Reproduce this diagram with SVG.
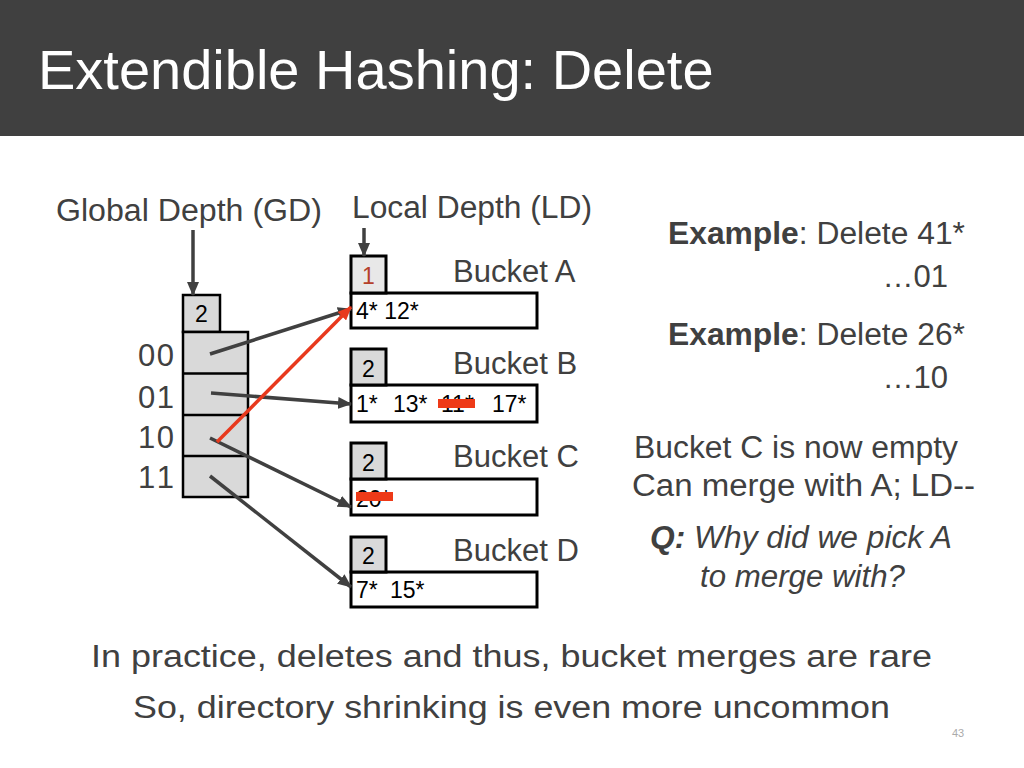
<svg xmlns="http://www.w3.org/2000/svg" width="1024" height="768" viewBox="0 0 1024 768">
<style>
text{font-family:"Liberation Sans",Arial,sans-serif}
.lbl{fill:#404040;font-size:31px}
.cnt{fill:#000;font-size:23px}
.box{fill:#fff;stroke:#000;stroke-width:3}
.ld{fill:#d9d9d9;stroke:#000;stroke-width:3}
.dir{fill:#d9d9d9;stroke:#000;stroke-width:2.5}
.arr{stroke:#404040;stroke-width:3.5;fill:none;marker-end:url(#ah)}
.red{stroke:#e8391d;stroke-width:3.5;fill:none;marker-end:url(#ahr)}
.strike{fill:#ee3a18}
</style>
<defs>
<marker id="ah" markerUnits="userSpaceOnUse" markerWidth="14" markerHeight="12" refX="13" refY="6" orient="auto"><path d="M0,0 L14,6 L0,12 z" fill="#404040"/></marker>
<marker id="ahr" markerUnits="userSpaceOnUse" markerWidth="14" markerHeight="12" refX="13" refY="6" orient="auto"><path d="M0,0 L14,6 L0,12 z" fill="#e8391d"/></marker>
</defs>
<rect x="0" y="0" width="1024" height="136" fill="#404040"/>
<text x="38" y="89" font-size="56" fill="#fff">Extendible Hashing: Delete</text>

<text class="lbl" x="56" y="221" font-size="27" textLength="266" lengthAdjust="spacingAndGlyphs">Global Depth (GD)</text>
<text class="lbl" x="352" y="218" font-size="27" textLength="240" lengthAdjust="spacingAndGlyphs">Local Depth (LD)</text>

<g id="directory">
<rect class="dir" x="183" y="295" width="37" height="37"/>
<text x="201.5" y="322" text-anchor="middle" font-size="23" fill="#000">2</text>
<rect class="dir" x="183" y="332" width="65" height="165"/>
<line x1="183" y1="373.5" x2="248" y2="373.5" stroke="#000" stroke-width="2.5"/>
<line x1="183" y1="415" x2="248" y2="415" stroke="#000" stroke-width="2.5"/>
<line x1="183" y1="456" x2="248" y2="456" stroke="#000" stroke-width="2.5"/>
<text class="lbl" x="138" y="366" textLength="36">00</text>
<text class="lbl" x="138" y="408" textLength="36">01</text>
<text class="lbl" x="138" y="448" textLength="36">10</text>
<text class="lbl" x="138" y="488" textLength="36">11</text>
</g>

<g id="bucketA">
<rect class="box" x="351" y="293" width="186" height="35"/>
<rect x="351" y="256" width="35" height="37" fill="#e8e8e8" stroke="#000" stroke-width="3"/>
<text x="368.5" y="284" text-anchor="middle" font-size="23" fill="#b5402a">1</text>
<text class="cnt" x="356" y="319">4* 12*</text>
<text class="lbl" x="453" y="282">Bucket A</text>
</g>

<g id="bucketB">
<rect class="box" x="351" y="385" width="186" height="37"/>
<rect class="ld" x="351" y="349" width="35" height="36"/>
<text x="368.5" y="377" text-anchor="middle" font-size="23" fill="#000">2</text>
<text class="cnt" y="412"><tspan x="356">1*</tspan><tspan x="393">13*</tspan><tspan x="441">11*</tspan><tspan x="492">17*</tspan></text>
<rect class="strike" x="438" y="399" width="37" height="9"/>
<text class="lbl" x="453" y="374">Bucket B</text>
</g>

<g id="bucketC">
<rect class="box" x="351" y="479" width="186" height="36"/>
<rect class="ld" x="351" y="443" width="35" height="36"/>
<text x="368.5" y="471" text-anchor="middle" font-size="23" fill="#000">2</text>
<text class="cnt" x="356" y="507">20*</text>
<rect class="strike" x="356" y="492" width="37" height="9"/>
<text class="lbl" x="453" y="467">Bucket C</text>
</g>

<g id="bucketD">
<rect class="box" x="351" y="572" width="186" height="35"/>
<rect class="ld" x="351" y="537" width="35" height="35"/>
<text x="368.5" y="564" text-anchor="middle" font-size="23" fill="#000">2</text>
<text class="cnt" y="598"><tspan x="356">7*</tspan><tspan x="390">15*</tspan></text>
<text class="lbl" x="453" y="561">Bucket D</text>
</g>

<g id="connectors">
<line class="arr" x1="193" y1="230" x2="193" y2="295"/>
<line class="arr" x1="364" y1="228" x2="364" y2="256"/>
<line class="arr" x1="210" y1="354" x2="351" y2="309"/>
<line class="arr" x1="211" y1="393" x2="351" y2="404"/>
<line class="arr" x1="210" y1="438" x2="351" y2="507"/>
<line class="arr" x1="210" y1="476" x2="351" y2="587"/>
<line class="red" x1="217" y1="442" x2="351" y2="307"/>
</g>

<g id="notes">
<text class="lbl" x="668" y="244" font-size="27" textLength="297" lengthAdjust="spacingAndGlyphs"><tspan font-weight="bold">Example</tspan>: Delete 41*</text>
<text class="lbl" x="948" y="287" text-anchor="end" font-size="28">…01</text>
<text class="lbl" x="668" y="345" font-size="27" textLength="297" lengthAdjust="spacingAndGlyphs"><tspan font-weight="bold">Example</tspan>: Delete 26*</text>
<text class="lbl" x="948" y="388" text-anchor="end" font-size="28">…10</text>
<text class="lbl" x="634" y="458" font-size="29" textLength="324" lengthAdjust="spacingAndGlyphs">Bucket C is now empty</text>
<text class="lbl" x="632" y="496" font-size="29" textLength="343" lengthAdjust="spacingAndGlyphs">Can merge with A; LD--</text>
<text class="lbl" x="650" y="548" font-size="29" font-style="italic" textLength="302" lengthAdjust="spacingAndGlyphs"><tspan font-weight="bold">Q:</tspan> Why did we pick A</text>
<text class="lbl" x="700" y="587" font-size="29" font-style="italic" textLength="205" lengthAdjust="spacingAndGlyphs">to merge with?</text>
<text class="lbl" x="91" y="667" font-size="32" textLength="841" lengthAdjust="spacingAndGlyphs">In practice, deletes and thus, bucket merges are rare</text>
<text class="lbl" x="133" y="718" font-size="32" textLength="757" lengthAdjust="spacingAndGlyphs">So, directory shrinking is even more uncommon</text>
<text x="952" y="737" font-size="11" fill="#aaa">43</text>
</g>
</svg>
